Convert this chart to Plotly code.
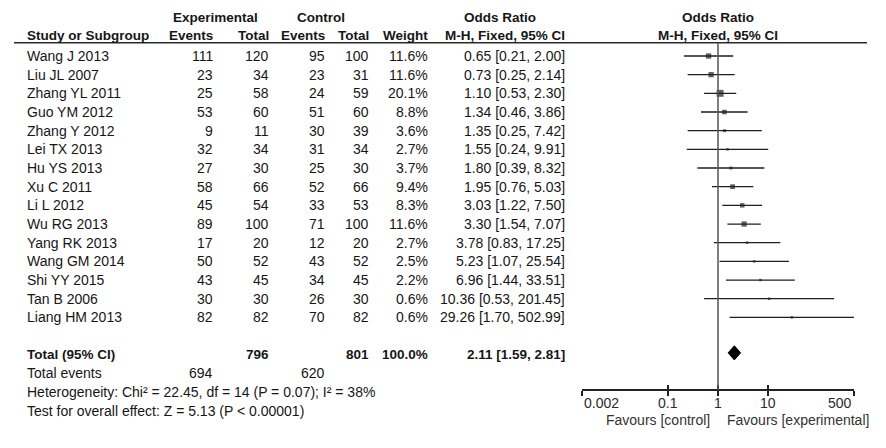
import math
import plotly.graph_objects as go

studies = ["Wang J 2013", "Liu JL 2007", "Zhang YL 2011", "Guo YM 2012", "Zhang Y 2012",
           "Lei TX 2013", "Hu YS 2013", "Xu C 2011", "Li L 2012", "Wu RG 2013",
           "Yang RK 2013", "Wang GM 2014", "Shi YY 2015", "Tan B 2006", "Liang HM 2013"]
exp_events = [111, 23, 25, 53, 9, 32, 27, 58, 45, 89, 17, 50, 43, 30, 82]
exp_total = [120, 34, 58, 60, 11, 34, 30, 66, 54, 100, 20, 52, 45, 30, 82]
ctl_events = [95, 23, 24, 51, 30, 31, 25, 52, 33, 71, 12, 43, 34, 26, 70]
ctl_total = [100, 31, 59, 60, 39, 34, 30, 66, 53, 100, 20, 52, 45, 30, 82]
weight = [11.6, 11.6, 20.1, 8.8, 3.6, 2.7, 3.7, 9.4, 8.3, 11.6, 2.7, 2.5, 2.2, 0.6, 0.6]
or_est = [0.65, 0.73, 1.10, 1.34, 1.35, 1.55, 1.80, 1.95, 3.03, 3.30, 3.78, 5.23, 6.96, 10.36, 29.26]
or_lo = [0.21, 0.25, 0.53, 0.46, 0.25, 0.24, 0.39, 0.76, 1.22, 1.54, 0.83, 1.07, 1.44, 0.53, 1.70]
or_hi = [2.00, 2.14, 2.30, 3.86, 7.42, 9.91, 8.32, 5.03, 7.50, 7.07, 17.25, 25.54, 33.51, 201.45, 502.99]

total_exp_events = 694
total_exp_total = 796
total_ctl_events = 620
total_ctl_total = 801
total_weight = 100.0
total_or = 2.11
total_lo = 1.59
total_hi = 2.81
heterogeneity = "Heterogeneity: Chi² = 22.45, df = 14 (P = 0.07); I² = 38%"
overall = "Test for overall effect: Z = 5.13 (P < 0.00001)"
tick_vals = [0.002, 0.1, 1, 10, 500]
tick_text = ["0.002", "0.1", "1", "10", "500"]

W, H = 886, 448
ROW0, ROWH = 56.0, 18.67
FONT = "Liberation Sans, Arial, sans-serif"
FS = 14
FSB = 13.5
TXT = "#161616"


def row_of(px):
    return (px - ROW0) / ROWH


def fmt_or(e, l, h):
    return f"{e:.2f} [{l:.2f}, {h:.2f}]"


fig = go.Figure()

# CI lines
cx, cy = [], []
for i in range(len(studies)):
    cx += [or_lo[i], or_hi[i], None]
    cy += [i, i, None]
fig.add_trace(go.Scatter(x=cx, y=cy, mode="lines", line=dict(color="#1e1e1e", width=1.3),
                         hoverinfo="skip", showlegend=False))
# squares
fig.add_trace(go.Scatter(x=or_est, y=list(range(len(studies))), mode="markers",
                         marker=dict(symbol="square", color="#1e1e1e",
                                     size=[max(2.5, 1.55 * math.sqrt(w)) for w in weight],
                                     line=dict(width=0)),
                         showlegend=False))
# diamond
tr = len(studies) + 1 - 0.1
hh = 0.38
fig.add_trace(go.Scatter(x=[total_lo, total_or, total_hi, total_or, total_lo],
                         y=[tr, tr - hh, tr, tr + hh, tr], mode="lines", fill="toself",
                         fillcolor="#000000", line=dict(color="#000000", width=1),
                         showlegend=False))
# invisible trace for second axis
fig.add_trace(go.Scatter(x=[1], y=[0], xaxis="x2", mode="markers",
                         marker=dict(opacity=0), showlegend=False, hoverinfo="skip"))

axis_py = 390.0
axis_pos = 1 - axis_py / H
x0p, x1p = 582 / W, 854 / W
lr = [math.log10(0.002), math.log10(500)]

fig.update_layout(
    width=W, height=H, margin=dict(l=0, r=0, t=0, b=0),
    paper_bgcolor="white", plot_bgcolor="white",
    font=dict(family=FONT, size=FS, color=TXT),
    xaxis=dict(type="log", range=lr, domain=[x0p, x1p], anchor="free", position=axis_pos,
               showgrid=False, zeroline=False, showline=True, linecolor="#222", linewidth=1.5,
               ticks="outside", ticklen=5, tickwidth=1.5, tickcolor="#222",
               tickvals=tick_vals, showticklabels=False),
    xaxis2=dict(type="log", range=lr, overlaying="x", anchor="free", position=axis_pos, side="bottom",
                showgrid=False, zeroline=False, showline=False,
                ticks="inside", ticklen=5, tickwidth=1.5, tickcolor="#222",
                tickvals=tick_vals, showticklabels=False),
    yaxis=dict(range=[row_of(H), row_of(0)], domain=[0, 1], visible=False),
    showlegend=False,
)

# header line and reference line
fig.add_shape(type="line", xref="paper", yref="paper", x0=14 / W, x1=867 / W,
              y0=1 - 42.7 / H, y1=1 - 42.7 / H, line=dict(color="#2a2a2a", width=1.5))
fig.add_shape(type="line", xref="x", yref="paper", x0=1, x1=1,
              y0=axis_pos, y1=1 - 42.7 / H, line=dict(color="#555", width=1.5))

ann = []


def txt(x, r, s, anchor="right", bold=False, size=None, color=TXT):
    if size is None:
        size = FSB if bold else FS
    ann.append(dict(x=x / W, y=r, xref="paper", yref="y", text=f"<b>{s}</b>" if bold else s,
                    showarrow=False, xanchor=anchor, yanchor="middle",
                    font=dict(family=FONT, size=size, color=color)))


# headers
r1, r2 = row_of(17.5), row_of(35.5)
txt(215, r1, "Experimental", "center", True)
txt(321, r1, "Control", "center", True)
txt(500, r1, "Odds Ratio", "center", True)
txt(718, r1, "Odds Ratio", "center", True)
txt(25, r2, "Study or Subgroup", "left", True)
txt(215, r2, "Events", "right", True)
txt(271, r2, "Total", "right", True)
txt(327, r2, "Events", "right", True)
txt(371, r2, "Total", "right", True)
txt(430, r2, "Weight", "right", True)
txt(567, r2, "M-H, Fixed, 95% CI", "right", True)
txt(718, r2, "M-H, Fixed, 95% CI", "center", True)

for i, s in enumerate(studies):
    txt(25, i, s, "left")
    txt(215, i, str(exp_events[i]))
    txt(271, i, str(exp_total[i]))
    txt(327, i, str(ctl_events[i]))
    txt(371, i, str(ctl_total[i]))
    txt(430, i, f"{weight[i]:.1f}%")
    txt(567, i, fmt_or(or_est[i], or_lo[i], or_hi[i]))

n = len(studies)
txt(25, n + 1, "Total (95% CI)", "left", True)
txt(271, n + 1, str(total_exp_total), "right", True)
txt(371, n + 1, str(total_ctl_total), "right", True)
txt(430, n + 1, f"{total_weight:.1f}%", "right", True)
txt(567, n + 1, fmt_or(total_or, total_lo, total_hi), "right", True)
txt(25, n + 2, "Total events", "left")
txt(215, n + 2, str(total_exp_events))
txt(327, n + 2, str(total_ctl_events))
txt(25, n + 3, heterogeneity, "left")
txt(25, n + 4, overall, "left")

# axis tick labels (end labels aligned inward, as in the reference)
tick_r = row_of(403)
for k, (tv, tt) in enumerate(zip(tick_vals, tick_text)):
    anchor = "left" if k == 0 else ("right" if k == len(tick_vals) - 1 else "center")
    ann.append(dict(x=math.log10(tv), y=tick_r, xref="x", yref="y", text=tt, showarrow=False,
                    xanchor=anchor, yanchor="middle", font=dict(family=FONT, size=FS, color="#2a2a2a")))

fav_r = row_of(420)
txt(712, fav_r, "Favours [control]", "right", color="#333")
txt(725, fav_r, "Favours [experimental]", "left", color="#333")

fig.update_layout(annotations=ann)
fig.write_html("out.html", config={"displayModeBar": False},
               post_script="document.body.style.margin='0px';")
